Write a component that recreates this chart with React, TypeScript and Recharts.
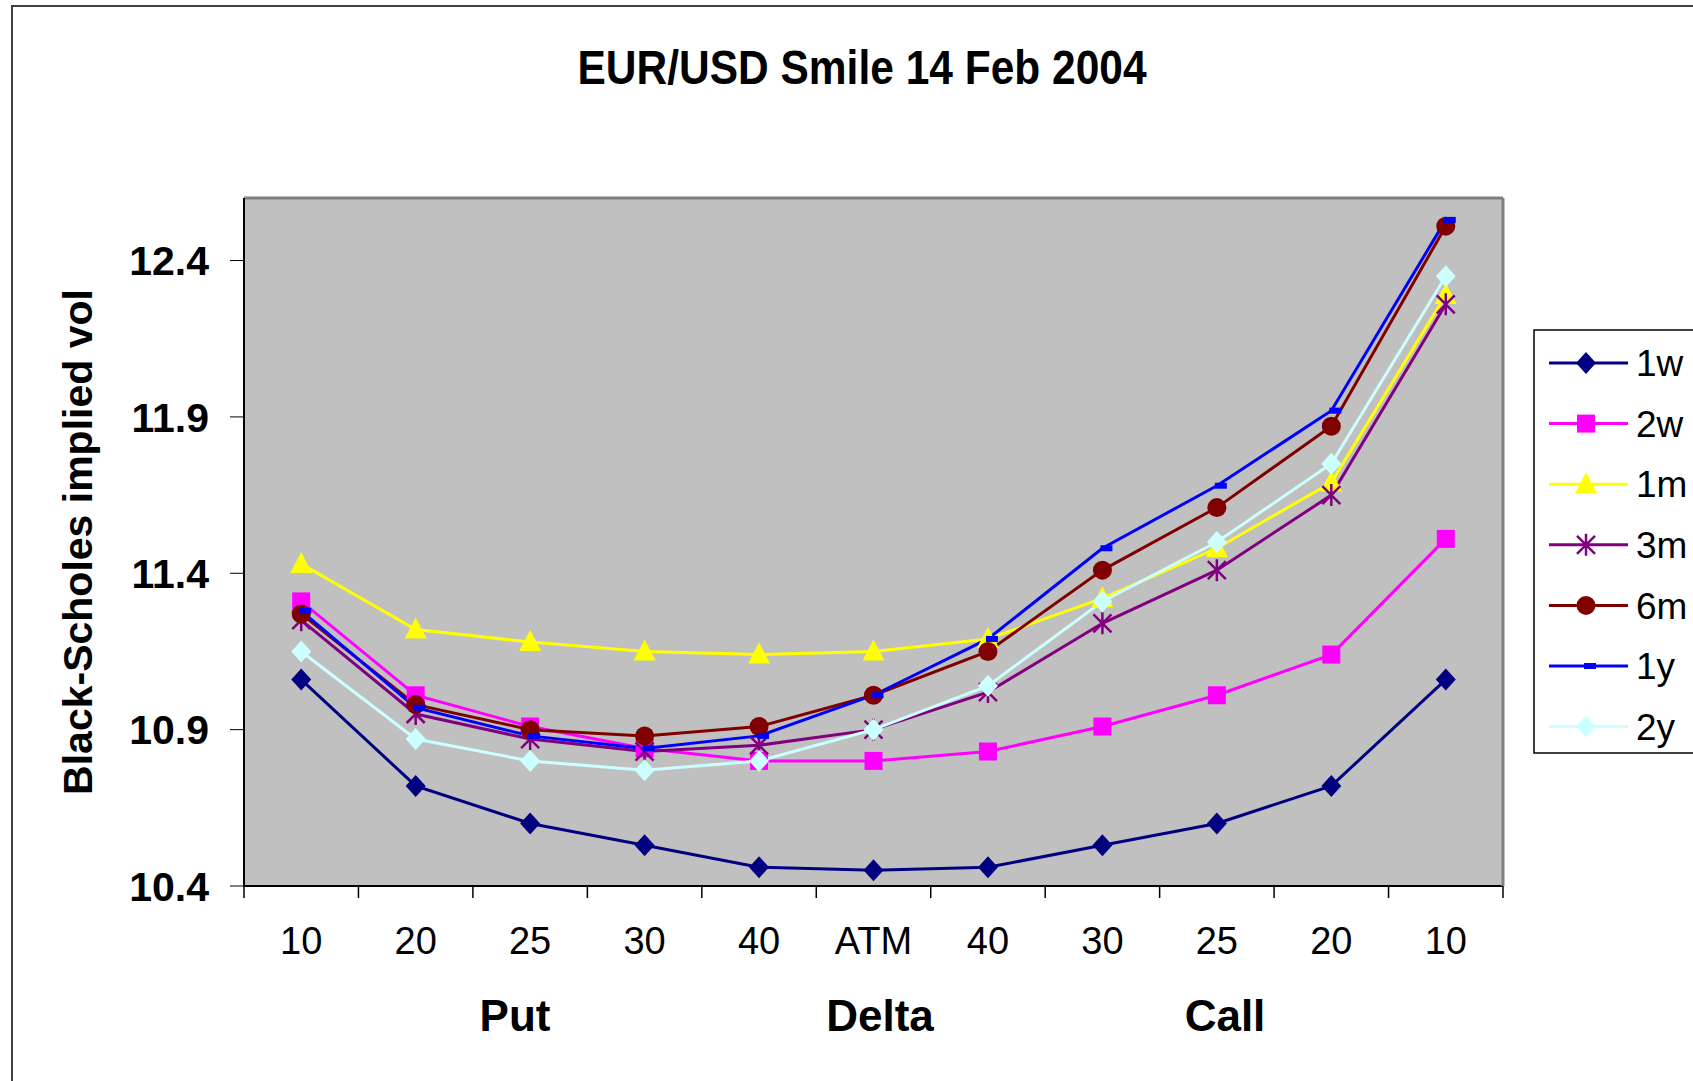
import { LineChart, Line, XAxis, YAxis, CartesianGrid, ReferenceLine } from 'recharts';

const deltas = ['10', '20', '25', '30', '40', 'ATM', '40', '30', '25', '20', '10'];
const yTicks = [10.4, 10.9, 11.4, 11.9, 12.4];

const vol1w = [11.06, 10.72, 10.6, 10.53, 10.46, 10.45, 10.46, 10.53, 10.6, 10.72, 11.06];
const vol2w = [11.31, 11.01, 10.91, 10.84, 10.8, 10.8, 10.83, 10.91, 11.01, 11.14, 11.51];
const vol1m = [11.43, 11.22, 11.18, 11.15, 11.14, 11.15, 11.19, 11.32, 11.48, 11.69, 12.29];
const vol3m = [11.25, 10.95, 10.87, 10.83, 10.85, 10.9, 11.02, 11.24, 11.41, 11.65, 12.26];
const vol6m = [11.27, 10.98, 10.9, 10.88, 10.91, 11.01, 11.15, 11.41, 11.61, 11.87, 12.51];
const vol1y = [11.28, 10.97, 10.88, 10.84, 10.88, 11.01, 11.19, 11.48, 11.68, 11.92, 12.53];
const vol2y = [11.15, 10.87, 10.8, 10.77, 10.8, 10.9, 11.04, 11.31, 11.5, 11.75, 12.35];

const series = [
  { key: '1w', values: vol1w, color: '#000080', shape: 'diamond' },
  { key: '2w', values: vol2w, color: '#FF00FF', shape: 'square' },
  { key: '1m', values: vol1m, color: '#FFFF00', shape: 'triangle' },
  { key: '3m', values: vol3m, color: '#800080', shape: 'star' },
  { key: '6m', values: vol6m, color: '#800000', shape: 'circle' },
  { key: '1y', values: vol1y, color: '#0000FF', shape: 'dash' },
  { key: '2y', values: vol2y, color: '#CCFFFF', shape: 'diamond' },
];

const data = deltas.map((d, i) => {
  const row: any = { k: i, label: d };
  series.forEach((s) => { row[s.key] = s.values[i]; });
  return row;
});

const W = 1693;
const H = 1081;
const PLOT_L = 244, PLOT_T = 198, PLOT_R = 1503, PLOT_B = 886;
const Y_AXIS_W = 120, X_AXIS_H = 80, R_AXIS_W = 10;
const BW = (PLOT_R - PLOT_L) / deltas.length;
const FONT = '"Liberation Sans", Arial, sans-serif';

function Marker({ shape, color, cx, cy }: any) {
  if (cx == null || cy == null) return null;
  switch (shape) {
    case 'diamond':
      return <polygon points={`${cx},${cy - 11} ${cx + 10},${cy} ${cx},${cy + 11} ${cx - 10},${cy}`} fill={color} />;
    case 'square':
      return <rect x={cx - 9} y={cy - 9} width={18} height={18} fill={color} />;
    case 'triangle':
      return <polygon points={`${cx},${cy - 12} ${cx + 11},${cy + 9} ${cx - 11},${cy + 9}`} fill={color} />;
    case 'star':
      return (
        <path
          d={`M${cx},${cy - 11}V${cy + 11}M${cx - 9},${cy - 9}L${cx + 9},${cy + 9}M${cx + 9},${cy - 9}L${cx - 9},${cy + 9}`}
          stroke={color}
          strokeWidth={2.5}
          fill="none"
        />
      );
    case 'circle':
      return <circle cx={cx} cy={cy} r={9.5} fill={color} />;
    case 'dash':
      return <rect x={cx - 2} y={cy - 3} width={12} height={6} fill={color} />;
    default:
      return null;
  }
}

const XTick = (props: any) => {
  const { x, y, payload } = props;
  const axisY = y - 12 - 29;
  const lx = x - BW / 2;
  return (
    <g>
      <line x1={lx} y1={axisY} x2={lx} y2={axisY + 12} stroke="#000" strokeWidth={1.5} />
      {payload.value === deltas.length - 1 && (
        <line x1={x + BW / 2} y1={axisY} x2={x + BW / 2} y2={axisY + 12} stroke="#000" strokeWidth={1.5} />
      )}
      <text x={x} y={y} dy="0.716em" textAnchor="middle" fontSize={38} fontFamily={FONT} fill="#000">
        {deltas[payload.value]}
      </text>
    </g>
  );
};

const YTick = (props: any) => {
  const { x, y, payload } = props;
  return (
    <text x={x} y={y} dy="0.358em" textAnchor="end" fontSize={41} fontWeight="bold" fontFamily={FONT} fill="#000">
      {payload.value.toFixed(1)}
    </text>
  );
};

export default function App() {
  return (
    <div style={{ position: 'absolute', left: 0, top: 0, width: W, height: H, overflow: 'hidden', background: '#fff' }}>
      <div
        style={{
          position: 'absolute', left: 11, top: 5, width: 2000, height: 2000,
          border: '2px solid #404040', boxSizing: 'border-box',
        }}
      />
      <div style={{ position: 'absolute', left: 0, top: 0 }}>
        <LineChart
          width={W}
          height={H}
          data={data}
          margin={{
            top: PLOT_T,
            left: PLOT_L - Y_AXIS_W,
            right: W - PLOT_R - R_AXIS_W,
            bottom: H - PLOT_B - X_AXIS_H,
          }}
        >
          <CartesianGrid vertical={false} stroke="#000" strokeWidth={1} fill="#C0C0C0" fillOpacity={1} />
          <XAxis
            dataKey="k"
            type="category"
            height={X_AXIS_H}
            padding={{ left: BW / 2, right: BW / 2 }}
            interval={0}
            tickSize={12}
            tickMargin={29}
            tickLine={false}
            tick={<XTick />}
            axisLine={{ stroke: '#000', strokeWidth: 2 }}
          />
          <YAxis
            yAxisId="v"
            width={Y_AXIS_W}
            domain={[10.4, 12.6]}
            ticks={yTicks}
            tickSize={14}
            tickMargin={21}
            tickLine={{ stroke: '#000', strokeWidth: 1 }}
            tick={<YTick />}
            axisLine={{ stroke: '#000', strokeWidth: 2 }}
          />
          <YAxis
            yAxisId="r"
            orientation="right"
            width={R_AXIS_W}
            domain={[10.4, 12.6]}
            tick={false}
            tickLine={false}
            axisLine={{ stroke: '#808080', strokeWidth: 3 }}
          />
          <ReferenceLine yAxisId="v" y={12.6} stroke="#808080" strokeWidth={3} />
          {series.map((s) => (
            <Line
              key={s.key}
              yAxisId="v"
              dataKey={s.key}
              name={s.key}
              stroke={s.color}
              strokeWidth={3}
              isAnimationActive={false}
              dot={(p: any) => <Marker key={`${s.key}-${p.index}`} shape={s.shape} color={s.color} cx={p.cx} cy={p.cy} />}
              activeDot={false}
            />
          ))}
        </LineChart>
      </div>
      <svg width={W} height={H} style={{ position: 'absolute', left: 0, top: 0, pointerEvents: 'none' }}>
        <g transform="translate(862,84) scale(1,1.12)">
          <text x={0} y={0} textAnchor="middle" fontSize={42.5} fontWeight="bold" fontFamily={FONT} fill="#000">
            EUR/USD Smile 14 Feb 2004
          </text>
        </g>
        <text x={515} y={1031} textAnchor="middle" fontSize={44} fontWeight="bold" fontFamily={FONT} fill="#000">Put</text>
        <text x={880} y={1031} textAnchor="middle" fontSize={44} fontWeight="bold" fontFamily={FONT} fill="#000">Delta</text>
        <text x={1225} y={1031} textAnchor="middle" fontSize={44} fontWeight="bold" fontFamily={FONT} fill="#000">Call</text>
        <text
          transform="translate(92,542) rotate(-90)"
          textAnchor="middle"
          fontSize={41}
          fontWeight="bold"
          fontFamily={FONT}
          fill="#000"
        >
          Black-Scholes implied vol
        </text>
        {/* legend */}
        <rect x={1534} y={330} width={300} height={423} fill="#fff" stroke="#000" strokeWidth={1.5} />
        {series.map((s, i) => {
          const ry = 363 + i * 60.6;
          return (
            <g key={s.key}>
              <line x1={1549} y1={ry} x2={1628} y2={ry} stroke={s.color} strokeWidth={3} />
              <Marker shape={s.shape} color={s.color} cx={1586} cy={ry} />
              <text x={1636} y={ry} dy="0.358em" fontSize={37} fontFamily={FONT} fill="#000">{s.key}</text>
            </g>
          );
        })}
      </svg>
    </div>
  );
}
